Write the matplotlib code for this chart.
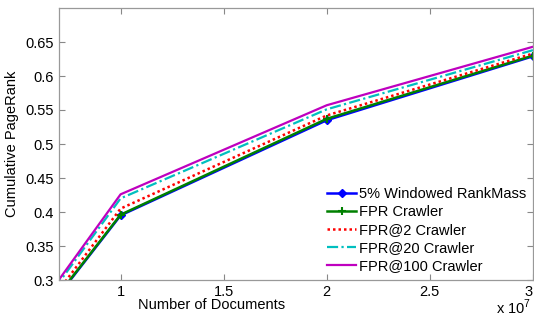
import matplotlib
matplotlib.use("Agg")
import matplotlib.pyplot as plt

plt.rcParams["font.family"] = ["Liberation Sans", "DejaVu Sans"]
plt.rcParams["mathtext.fontset"] = "custom"
plt.rcParams["mathtext.rm"] = "Liberation Sans"

# ------------- data (x in units of 1e7 documents) -------------
docs = [0.5, 1, 2, 3]
windowed = [0.200, 0.395, 0.535, 0.629]
fpr = [0.201, 0.396, 0.537, 0.630]
fpr2 = [0.205, 0.405, 0.542, 0.633]
fpr20 = [0.213, 0.420, 0.551, 0.638]
fpr100 = [0.216, 0.426, 0.557, 0.643]

x_ticks = [1, 1.5, 2, 2.5, 3]
y_ticks = [0.3, 0.35, 0.4, 0.45, 0.5, 0.55, 0.6, 0.65]

# ------------- figure -------------
fig = plt.figure(figsize=(5.34, 3.2), dpi=100)
ax = fig.add_axes([0.110, 0.125, 0.888, 0.85])

ax.plot(docs, windowed, color="#0000ff", lw=1.8, marker="D", ms=4, label="5% Windowed RankMass")
ax.plot(docs, fpr, color="#008000", lw=1.8, marker="+", ms=6, mew=1.5, label="FPR Crawler")
ax.plot(docs, fpr2, color="#ff0000", lw=1.8, ls=(0, (1, 1.2)), label="FPR@2 Crawler")
ax.plot(docs, fpr20, color="#00bfbf", lw=1.6, ls=(0, (5, 1.5, 1, 1.5)), label="FPR@20 Crawler")
ax.plot(docs, fpr100, color="#bf00bf", lw=1.6, label="FPR@100 Crawler")

ax.set_xlim(0.7, 3)
ax.set_ylim(0.3, 0.7)
ax.set_xticks(x_ticks)
ax.set_xticklabels(["1", "1.5", "2", "2.5", "3"])
ax.set_yticks(y_ticks)
ax.set_yticklabels(["0.3", "0.35", "0.4", "0.45", "0.5", "0.55", "0.6", "0.65"])
ax.tick_params(direction="in", top=True, right=True, labelsize=10.5, length=4, color="#888888")
for sp in ax.spines.values():
    sp.set_color("#999999")
    sp.set_linewidth(0.9)
# last tick label sits right at the figure edge, like the original
ax.get_xticklabels()[-1].set_horizontalalignment("right")

ax.set_xlabel("Number of Documents", fontsize=10.5)
ax.xaxis.set_label_coords(0.323, -0.065)
ax.set_ylabel("Cumulative PageRank", fontsize=10.5)
ax.yaxis.set_label_coords(-0.083, 0.5)

fig.text(0.962, 0.04, r"x 10$^7$", ha="center", va="center", fontsize=10.5)

ax.legend(loc="lower right", frameon=False, fontsize=10.5, handlelength=2.0,
          handletextpad=0.2, labelspacing=0.28, borderaxespad=0.05)

fig.savefig("out.png", dpi=100)
